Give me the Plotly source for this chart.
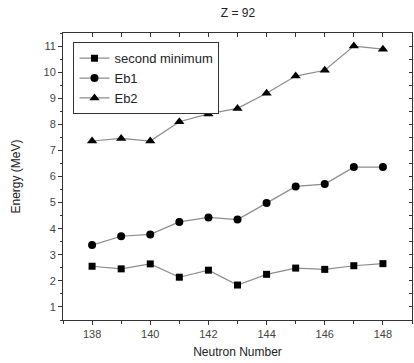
import plotly.graph_objects as go

neutron = [138, 139, 140, 141, 142, 143, 144, 145, 146, 147, 148]
second_minimum = [2.56, 2.46, 2.65, 2.14, 2.41, 1.84, 2.25, 2.49, 2.44, 2.58, 2.66]
eb1 = [3.37, 3.71, 3.78, 4.26, 4.43, 4.35, 4.98, 5.62, 5.71, 6.36, 6.36]
eb2 = [7.36, 7.46, 7.36, 8.10, 8.40, 8.61, 9.19, 9.85, 10.07, 11.0, 10.88]

FONT = "Liberation Sans, Arial, sans-serif"
LINE = "#8c8c8c"

fig = go.Figure()
for name, ys, sym, sz in [("second minimum", second_minimum, "square", 7),
                          ("Eb1", eb1, "circle", 8),
                          ("Eb2", eb2, "triangle-up", 9)]:
    fig.add_trace(go.Scatter(x=neutron, y=ys, name=name, mode="lines+markers",
                             line=dict(color=LINE, width=1.2),
                             marker=dict(symbol=sym, size=sz, color="black")))

# invisible trace for mirror axes
fig.add_trace(go.Scatter(x=[neutron[0]], y=[eb1[0]], xaxis="x2", yaxis="y2",
                         mode="markers", marker=dict(opacity=0), showlegend=False,
                         hoverinfo="skip"))

axis_common = dict(showgrid=False, zeroline=False, showline=True, linecolor="#333",
                   linewidth=1, tickcolor="#333", automargin=False,
                   tickfont=dict(family=FONT, size=11, color="#444"))

fig.update_layout(
    width=414, height=363,
    margin=dict(l=63, r=2, t=33, b=43),
    paper_bgcolor="white", plot_bgcolor="white",
    title=dict(text="Z = 92", x=0.575, xanchor="center", y=0.975, yanchor="top",
               font=dict(family=FONT, size=12, color="#222")),
    xaxis=dict(range=[137, 149], dtick=2, tick0=138, ticks="outside", ticklen=4,
               minor=dict(dtick=1, tick0=137, ticks="outside", ticklen=3, tickcolor="#333"),
               title=dict(text="Neutron Number", font=dict(family=FONT, size=12, color="#222"), standoff=8),
               **axis_common),
    yaxis=dict(range=[0.5, 11.5], dtick=1, tick0=1, ticks="outside", ticklen=4,
               minor=dict(dtick=0.5, tick0=0.5, ticks="outside", ticklen=2, tickcolor="#333"),
               title=dict(text="Energy (MeV)", font=dict(family=FONT, size=12, color="#222"), standoff=20),
               **axis_common),
    xaxis2=dict(overlaying="x", side="top", anchor="y", range=[137, 149], dtick=1, tick0=137,
                ticks="inside", ticklen=4, showticklabels=False, **axis_common),
    yaxis2=dict(overlaying="y", side="right", anchor="x", range=[0.5, 11.5], dtick=0.5, tick0=0.5,
                ticks="inside", ticklen=3, showticklabels=False, **axis_common),
    legend=dict(x=0.03, y=0.968, xanchor="left", yanchor="top",
                bordercolor="#333", borderwidth=1, bgcolor="white",
                font=dict(family=FONT, size=13, color="#222"),
                tracegroupgap=0, itemwidth=30),
    showlegend=True,
)

fig.write_html("out.html", config={"displayModeBar": False},
               post_script="document.body.style.margin='0';document.body.style.overflow='hidden';")
